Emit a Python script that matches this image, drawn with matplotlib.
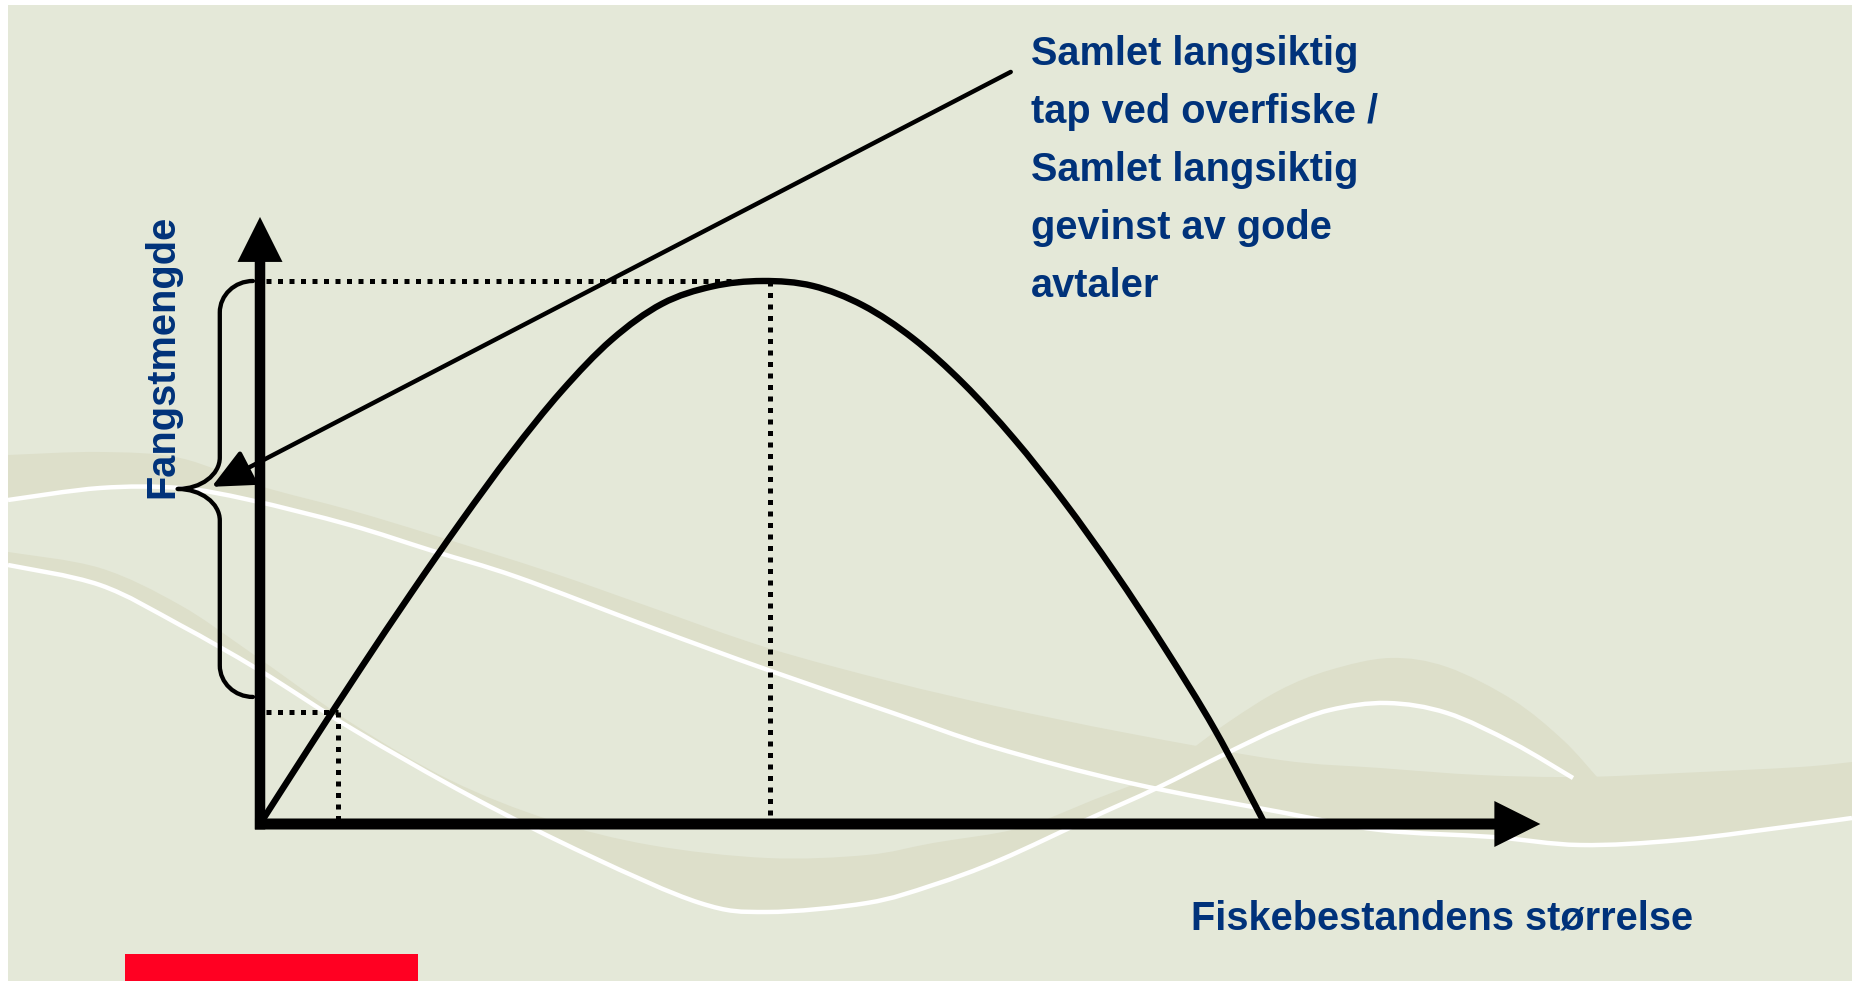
import numpy as np
import matplotlib.pyplot as plt
from matplotlib import font_manager
from matplotlib.path import Path
from matplotlib.patches import PathPatch, Rectangle, FancyArrow

# produksjonskurve: bestand (0-100) mot fangst (0-100 ved maksimalt uttak)
bestand = [0, 5, 10, 15, 20, 25, 30, 35, 40, 45, 50, 55, 60, 65, 70, 75, 80, 85,
           90, 95, 100]
fangst = [0, 14.4, 28.6, 42.4, 55.7, 68.3, 79.7, 89.2, 95.8, 99.0, 100.0, 99.1,
          95.5, 89.4, 81.1, 71.0, 59.4, 46.5, 32.5, 17.4, 0]

msy_bestand, msy_fangst = 50.7, 100.0
over_bestand, over_fangst = 7.8, 20.6
klamme_lav, klamme_hoy = 23.4, 100.0
pil_fra = (74.7, 138.5)
pil_til = (-4.8, 62.1)

tekst_boks = "Samlet langsiktig\ntap ved overfiske /\nSamlet langsiktig\ngevinst av gode\navtaler"
tekst_y = "Fangstmengde"
tekst_x = "Fiskebestandens størrelse"

# bakgrunnsbølger (bildepunkter)
band1_topp = [(8, 455), (100, 452), (180, 458), (260, 486), (350, 510), (433, 535),
              (550, 572), (650, 607), (768, 648), (893, 682), (1000, 707), (1127, 733),
              (1280, 760), (1380, 768), (1480, 775), (1580, 777), (1680, 773),
              (1800, 767), (1852, 762)]
linje1 = [(8, 500), (100, 488), (180, 488), (250, 500), (350, 525), (433, 551),
          (517, 577), (650, 627), (768, 670), (893, 713), (993, 747), (1130, 783),
          (1280, 812), (1380, 830), (1493, 837), (1580, 845), (1680, 840),
          (1800, 825), (1852, 818)]
band2_topp = [(8, 552), (100, 568), (180, 605), (250, 652), (350, 722), (450, 780),
              (550, 820), (650, 845), (767, 858), (867, 855), (933, 843), (1020, 828),
              (1093, 800), (1157, 773), (1227, 723), (1280, 690), (1330, 670),
              (1390, 658), (1447, 667), (1513, 700), (1563, 740), (1597, 777)]
linje2 = [(8, 565), (100, 585), (180, 625), (259, 670), (354, 730), (472, 797),
          (590, 856), (700, 903), (767, 912), (867, 903), (933, 885), (1000, 860),
          (1093, 817), (1157, 788), (1227, 753), (1280, 728), (1330, 710),
          (1387, 703), (1447, 713), (1513, 743), (1573, 778)]

W, H = 1852, 981
BG = "#E4E8D8"
BAND = "#DDDFCA"
NAVY = "#00327A"

# smal fet skrift som i originalen, hvis den finnes
fonts = font_manager.fontManager.ttflist
names = {f.name for f in fonts}
noto_cond = [f for f in fonts if f.name == "Noto Sans" and "condensed" in str(f.stretch)]
if "Liberation Sans Narrow" in names:
    FONT, STRETCH, FS, LS = ["Liberation Sans Narrow", "DejaVu Sans"], "normal", 34, 1.37
elif noto_cond:
    FONT, STRETCH, FS, LS = ["Noto Sans", "DejaVu Sans"], "condensed", 32, 1.30
else:
    FONT, STRETCH, FS, LS = ["Liberation Sans", "DejaVu Sans"], "normal", 28.6, 1.67
tekst = dict(fontsize=FS, fontweight="bold", color=NAVY, family=FONT,
             fontstretch=STRETCH)


def glatt(punkter):
    """Catmull-Rom gjennom punktene, som kubiske Bezier-segmenter."""
    p = np.asarray(punkter, float)
    ext = np.vstack([p[0], p, p[-1]])
    verts = [p[0]]
    for i in range(len(p) - 1):
        p0, p1, p2, p3 = ext[i], ext[i + 1], ext[i + 2], ext[i + 3]
        verts += [p1 + (p2 - p0) / 6, p2 - (p3 - p1) / 6, p2]
    codes = [Path.MOVETO] + [Path.CURVE4] * (len(verts) - 1)
    return np.array(verts), codes


def band(topp, bunn):
    v1, c1 = glatt(topp)
    v2, c2 = glatt(bunn[::-1])
    c2[0] = Path.LINETO
    verts = np.vstack([v1, v2, v1[:1]])
    codes = c1 + c2 + [Path.CLOSEPOLY]
    return Path(verts, codes)


fig = plt.figure(figsize=(W / 100, H / 100), dpi=100)
fig.patch.set_facecolor("white")

# bakgrunn i bildepunkter
bg = fig.add_axes([0, 0, 1, 1])
bg.set_xlim(0, W)
bg.set_ylim(H, 0)
bg.axis("off")
bg.add_patch(Rectangle((8, 5), W - 8, H - 5, color=BG, lw=0))
bg.add_patch(PathPatch(band(band1_topp, linje1), color=BAND, lw=0))
bg.add_patch(PathPatch(band(band2_topp, linje2), color=BAND, lw=0))
for linje in (linje1, linje2):
    v, c = glatt(linje)
    bg.add_patch(PathPatch(Path(v, c), fill=False, ec="white", lw=3.2))
bg.add_patch(Rectangle((125, 954), 293, 27, color="#FF0022", lw=0))

# diagrammet i dataenheter
px_x, px_y = 10.05, 5.43  # bildepunkter per enhet
x0, y0 = 260, 824         # origo i bildet
ax = fig.add_axes([0, 0, 1, 1])
ax.patch.set_alpha(0)
ax.set_xlim(-x0 / px_x, (W - x0) / px_x)
ax.set_ylim(-(H - y0) / px_y, y0 / px_y)
ax.axis("off")

prikk = dict(color="black", lw=3.6, linestyle=(0, (1, 1.3)), dash_capstyle="butt")
ax.plot([0.6, msy_bestand], [msy_fangst, msy_fangst], **prikk)
ax.plot([msy_bestand, msy_bestand], [msy_fangst, 0.8], **prikk)
ax.plot([0.6, over_bestand], [over_fangst, over_fangst], **prikk)
ax.plot([over_bestand, over_bestand], [over_fangst, 0.8], **prikk)

# produksjonskurven, glatt gjennom punktene
v, c = glatt(list(zip(bestand, fangst)))
ax.add_patch(PathPatch(Path(v, c), fill=False, ec="black", lw=4.6, capstyle="round"))

# akser med piler
ax.add_patch(FancyArrow(-0.5, 0, 127.9, 0, width=11 / px_y, head_width=46 / px_y,
                        head_length=46 / px_x, length_includes_head=True,
                        color="black", lw=0))
ax.add_patch(FancyArrow(0, -1.0, 0, 112.8, width=10.5 / px_x, head_width=45 / px_x,
                        head_length=45 / px_y, length_includes_head=True,
                        color="black", lw=0))

# klamme
xe, xm, xt = -0.7, -4.0, -8.2
ry = 5.8
yc = (klamme_lav + klamme_hoy) / 2
k = 0.552
verts = [
    (xe, klamme_hoy),
    (xe - k * (xe - xm), klamme_hoy), (xm, klamme_hoy - ry + k * ry), (xm, klamme_hoy - ry),
    (xm, yc + ry),
    (xm, yc + ry - k * ry), (xt + k * (xm - xt), yc), (xt, yc),
    (xt + k * (xm - xt), yc), (xm, yc - ry + k * ry), (xm, yc - ry),
    (xm, klamme_lav + ry),
    (xm, klamme_lav + ry - k * ry), (xe - k * (xe - xm), klamme_lav), (xe, klamme_lav),
]
codes = ([Path.MOVETO] + [Path.CURVE4] * 3 + [Path.LINETO] + [Path.CURVE4] * 6
         + [Path.LINETO] + [Path.CURVE4] * 3)
ax.add_patch(PathPatch(Path(verts, codes), fill=False, ec="black", lw=3.1,
                       capstyle="round", joinstyle="round"))

ax.annotate("", xy=pil_til, xytext=pil_fra,
            arrowprops=dict(arrowstyle="-|>,head_length=0.9,head_width=0.42",
                            lw=3.2, color="black", shrinkA=0, shrinkB=0,
                            mutation_scale=28))

# tekster
fig.text(1031 / W, 1 - 35 / H, tekst_boks, ha="left", va="top", linespacing=LS, **tekst)
fig.text(1191 / W, 1 - 930 / H, tekst_x, ha="left", va="baseline", **tekst)
fig.text(173 / W, 1 - 498 / H, tekst_y, ha="left", va="baseline", rotation=90,
         rotation_mode="anchor", **tekst)

plt.savefig("out.png", dpi=100)
plt.close()
